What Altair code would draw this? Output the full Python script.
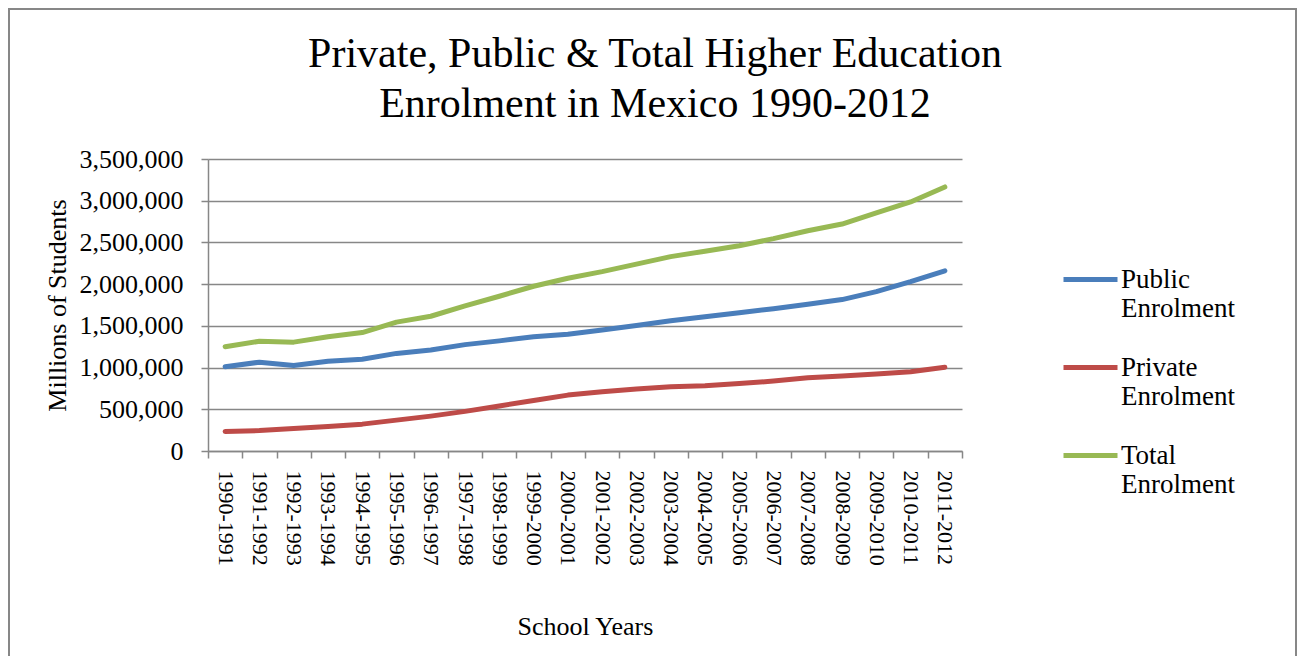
import altair as alt
import pandas as pd

years = ["1990-1991", "1991-1992", "1992-1993", "1993-1994", "1994-1995", "1995-1996",
         "1996-1997", "1997-1998", "1998-1999", "1999-2000", "2000-2001", "2001-2002",
         "2002-2003", "2003-2004", "2004-2005", "2005-2006", "2006-2007", "2007-2008",
         "2008-2009", "2009-2010", "2010-2011", "2011-2012"]

public = [1010000, 1065000, 1025000, 1075000, 1100000, 1170000, 1210000, 1275000,
          1320000, 1370000, 1400000, 1450000, 1505000, 1560000, 1610000, 1658000,
          1706000, 1760000, 1815000, 1910000, 2030000, 2160000]

private = [235000, 245000, 270000, 295000, 322000, 370000, 418000, 475000,
           540000, 605000, 670000, 710000, 743000, 770000, 783000, 808000,
           838000, 877000, 900000, 922000, 950000, 1003000]

total = [1250000, 1315000, 1305000, 1370000, 1420000, 1545000, 1615000, 1740000,
         1855000, 1975000, 2070000, 2150000, 2240000, 2330000, 2395000, 2460000,
         2545000, 2640000, 2720000, 2855000, 2985000, 3165000]

series_names = ["Public Enrolment", "\u2002Private Enrolment", "Total Enrolment"]
series_colors = ["#4a7ebb", "#be4b48", "#98b954"]
y_ticks = [0, 500000, 1000000, 1500000, 2000000, 2500000, 3000000, 3500000]

rows = []
for name, vals in zip(series_names, [public, private, total]):
    for yr, v in zip(years, vals):
        rows.append({"year": yr, "value": v, "series": name})
df = pd.DataFrame(rows)

GRAY = "#878787"
SERIF = "Liberation Serif, Times New Roman, serif"

lines = alt.Chart(df).mark_line(strokeWidth=5, strokeCap="round", strokeJoin="round").encode(
    x=alt.X("year:N", sort=years, bandPosition=0.5,
            scale=alt.Scale(type="band", paddingInner=0, paddingOuter=0),
            axis=alt.Axis(title="School Years", labelAngle=90, labelAlign="left",
                          labelBaseline="middle", tickBand="extent", grid=False,
                          labelFont=SERIF, labelFontSize=22, labelPadding=12, titlePadding=48)),
    y=alt.Y("value:Q", scale=alt.Scale(domain=[0, 3500000], nice=False),
            axis=alt.Axis(title="Millions of Students", values=y_ticks, format=",d",
                          labelFont=SERIF, labelFontSize=26, labelPadding=18,
                          titlePadding=9, grid=True)),
    color=alt.Color("series:N", sort=series_names,
                    scale=alt.Scale(domain=series_names, range=series_colors),
                    legend=alt.Legend(title=None, orient="none", legendX=853, legendY=91,
                                      direction="vertical", symbolType="stroke",
                                      symbolSize=2916, symbolStrokeWidth=5,
                                      labelFont=SERIF, labelFontSize=27, labelColor="black",
                                      labelExpr="[slice(datum.label, 0, indexof(datum.label, 'Enrolment') - 1), 'Enrolment']",
                                      labelBaseline="middle", labelOffset=1, rowPadding=16,
                                      padding=0, labelLimit=400)),
)

frame = alt.Chart(pd.DataFrame({"k": [0]})).mark_rect(
    fill="white", fillOpacity=0, stroke=GRAY, strokeWidth=2
).encode(x=alt.value(-199), x2=alt.value(1088), y=alt.value(-150), y2=alt.value(600))

chart = alt.layer(frame, lines).properties(
    width=754, height=292,
    title=alt.TitleParams(text=["Private, Public & Total Higher Education",
                                "Enrolment in Mexico 1990-2012"],
                          font=SERIF, fontSize=42, fontWeight="normal", color="black",
                          anchor="middle", frame="group", dx=70, dy=152, lineHeight=50,
                          offset=34),
    autosize=alt.AutoSizeParams(type="none"),
    padding={"left": 200, "top": 151, "right": 335, "bottom": 205},
    background="white",
).configure_axis(
    labelFont=SERIF, labelColor="black", titleFont=SERIF, titleFontSize=26,
    titleFontWeight="normal", titleColor="black", domainColor=GRAY, domainWidth=1.5,
    tickColor=GRAY, tickSize=7, tickWidth=1.5, gridColor=GRAY, gridWidth=1.5,
).configure_legend(labelFont=SERIF).configure_view(strokeWidth=0)

chart.save("out.html", embed_options={"renderer": "svg", "actions": False})
